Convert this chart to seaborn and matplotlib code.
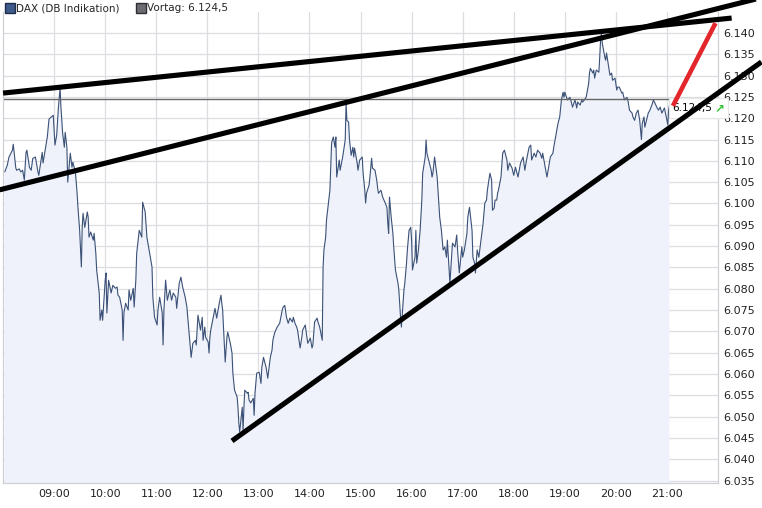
import pandas as pd
import matplotlib
matplotlib.use('Agg')
import matplotlib.pyplot as plt
import matplotlib.dates as mdates
from matplotlib.lines import Line2D
from matplotlib.offsetbox import TextArea, HPacker, AnnotationBbox
import seaborn as sns

# minutes after 08:00 and DAX level
minutes = [2, 5, 7, 11, 12, 13, 15, 16, 19, 21, 23, 25, 27, 28, 31, 33, 35, 38, 39, 41,
           42, 45, 46, 47, 49, 52, 54, 58, 59, 61, 63, 65, 67, 68, 70, 72, 73, 75, 76, 79,
           81, 82, 85, 87, 88, 90, 92, 93, 94, 96, 99, 100, 101, 103, 106, 107, 109, 110, 113, 114,
           116, 117, 120, 121, 122, 124, 127, 129, 132, 134, 135, 137, 140, 141, 142, 144, 147, 148, 150, 153,
           154, 156, 157, 160, 163, 164, 167, 169, 171, 175, 176, 178, 181, 182, 184, 187, 188, 189, 191, 193,
           195, 196, 198, 200, 203, 204, 207, 209, 211, 214, 216, 217, 220, 221, 223, 226, 227, 229, 230, 232,
           234, 235, 237, 238, 241, 242, 243, 244, 247, 249, 251, 254, 256, 257, 258, 259, 261, 263, 264, 267,
           269, 270, 272, 275, 276, 277, 278, 281, 282, 283, 284, 287, 288, 289, 291, 294, 295, 296, 298, 301,
           303, 304, 306, 309, 311, 314, 316, 317, 319, 322, 325, 328, 329, 331, 333, 335, 337, 340, 341, 343,
           345, 346, 349, 351, 352, 355, 357, 358, 361, 363, 364, 366, 369, 370, 372, 375, 376, 377, 379, 380,
           383, 384, 386, 388, 390, 391, 392, 395, 396, 399, 402, 403, 404, 406, 407, 409, 411, 412, 413, 416,
           417, 419, 422, 423, 425, 426, 427, 430, 431, 433, 434, 437, 439, 440, 441, 444, 446, 449, 451, 452,
           453, 454, 456, 458, 459, 461, 464, 465, 467, 468, 470, 471, 472, 474, 475, 477, 479, 480, 481, 484,
           485, 486, 488, 490, 492, 493, 496, 497, 498, 500, 503, 504, 505, 507, 510, 511, 513, 515, 517, 519,
           521, 522, 525, 527, 528, 531, 533, 534, 536, 539, 540, 542, 545, 546, 548, 551, 552, 554, 555, 557,
           559, 562, 564, 566, 568, 569, 572, 574, 575, 577, 578, 580, 581, 582, 585, 587, 589, 592, 593, 595,
           598, 600, 602, 605, 608, 611, 613, 615, 618, 620, 621, 624, 626, 628, 631, 633, 634, 636, 639, 641,
           643, 646, 647, 650, 652, 654, 656, 658, 659, 660, 662, 663, 666, 668, 669, 672, 674, 675, 678, 680,
           681, 683, 685, 686, 688, 689, 690, 693, 694, 695, 697, 700, 701, 702, 703, 704, 707, 708, 709, 712,
           713, 715, 716, 719, 721, 722, 724, 727, 728, 730, 733, 734, 736, 739, 740, 742, 744, 746, 748, 750,
           751, 753, 754, 756, 758, 760, 763, 764, 766, 768, 770, 772, 774, 777, 780, 781, 782, 783]
dax = [6107.4, 6109.0, 6110.9, 6112.5, 6113.9, 6112.0, 6108.3, 6107.8, 6108.1, 6107.4,
       6107.8, 6105.5, 6112.0, 6112.5, 6108.5, 6107.8, 6110.6, 6110.9, 6109.7, 6107.4,
       6106.6, 6110.6, 6112.0, 6109.5, 6112.0, 6115.6, 6119.8, 6120.5, 6120.7, 6113.7,
       6116.0, 6122.4, 6127.1, 6122.6, 6116.5, 6113.2, 6116.7, 6113.2, 6105.0, 6111.8,
       6108.5, 6109.7, 6107.4, 6102.4, 6099.1, 6093.7, 6085.1, 6094.4, 6097.7, 6094.4,
       6098.0, 6096.8, 6092.1, 6093.3, 6091.4, 6093.0, 6088.3, 6084.4, 6079.0, 6072.6,
       6075.0, 6072.6, 6082.0, 6083.7, 6074.3, 6082.0, 6079.0, 6080.8, 6080.1, 6080.4,
       6078.5, 6078.0, 6075.0, 6067.9, 6074.3, 6076.6, 6075.0, 6079.7, 6077.3, 6080.1,
       6075.7, 6082.0, 6088.3, 6093.7, 6092.1, 6100.3, 6098.0, 6092.1, 6089.8, 6085.1,
       6078.0, 6073.3, 6071.5, 6075.0, 6078.0, 6074.3, 6066.8, 6075.0, 6082.0, 6077.3,
       6079.0, 6079.7, 6077.3, 6079.0, 6078.0, 6075.4, 6081.3, 6082.7, 6080.4, 6078.0,
       6075.7, 6073.3, 6066.3, 6063.9, 6067.2, 6067.9, 6066.8, 6073.8, 6072.6, 6070.3,
       6073.3, 6067.9, 6071.0, 6068.6, 6067.5, 6064.9, 6068.6, 6070.3, 6073.3, 6075.4,
       6073.1, 6076.6, 6078.5, 6076.6, 6075.0, 6071.0, 6062.8, 6068.6, 6069.8, 6067.2,
       6064.9, 6060.2, 6056.2, 6054.6, 6052.2, 6048.5, 6046.4, 6052.2, 6046.8, 6052.2,
       6056.2, 6055.5, 6055.7, 6053.9, 6053.2, 6054.3, 6050.3, 6055.5, 6060.2, 6060.4,
       6057.8, 6061.6, 6063.9, 6061.6, 6059.0, 6063.9, 6065.6, 6067.9, 6069.6, 6071.0,
       6071.9, 6075.0, 6075.7, 6076.1, 6073.3, 6071.9, 6073.1, 6072.2, 6073.3, 6071.9,
       6071.0, 6070.3, 6066.1, 6068.6, 6070.3, 6071.5, 6068.6, 6067.2, 6068.4, 6066.1,
       6066.8, 6072.2, 6073.1, 6072.2, 6071.0, 6067.9, 6085.1, 6089.1, 6092.1, 6096.1,
       6101.5, 6103.1, 6114.2, 6115.6, 6113.2, 6115.6, 6106.2, 6110.2, 6107.8, 6110.9,
       6114.9, 6123.5, 6119.5, 6119.1, 6114.9, 6111.3, 6113.2, 6110.9, 6113.0, 6109.5,
       6107.8, 6110.2, 6110.9, 6107.1, 6103.1, 6100.1, 6102.4, 6104.3, 6106.2, 6110.6,
       6108.3, 6107.8, 6105.5, 6103.8, 6102.4, 6103.1, 6101.5, 6100.1, 6099.1, 6095.4,
       6093.0, 6101.5, 6096.8, 6093.0, 6089.8, 6084.4, 6081.3, 6079.7, 6073.3, 6071.0,
       6076.6, 6079.7, 6081.3, 6086.0, 6089.1, 6093.7, 6094.4, 6091.4, 6084.4, 6087.4,
       6093.7, 6086.0, 6089.1, 6093.7, 6100.8, 6107.1, 6110.9, 6114.9, 6111.8, 6110.2,
       6107.8, 6106.2, 6107.1, 6110.9, 6106.2, 6103.1, 6096.8, 6093.7, 6089.1, 6089.8,
       6087.4, 6091.4, 6081.3, 6087.4, 6090.7, 6089.8, 6092.6, 6089.1, 6083.7, 6089.8,
       6087.4, 6089.1, 6093.0, 6096.8, 6099.1, 6093.7, 6087.4, 6086.0, 6083.7, 6089.1,
       6087.4, 6092.1, 6095.4, 6100.1, 6100.8, 6103.1, 6107.1, 6105.5, 6098.4, 6098.9,
       6100.8, 6100.8, 6102.4, 6103.1, 6106.2, 6111.8, 6112.5, 6110.2, 6107.8, 6109.5,
       6108.3, 6106.6, 6108.5, 6106.2, 6109.5, 6110.9, 6107.8, 6110.2, 6113.2, 6113.7,
       6110.2, 6111.8, 6110.9, 6112.5, 6111.8, 6110.6, 6111.8, 6109.5, 6106.2, 6108.5,
       6110.9, 6111.8, 6113.2, 6116.5, 6118.8, 6120.3, 6124.3, 6126.1, 6124.9, 6126.1,
       6124.9, 6124.3, 6124.9, 6123.5, 6122.6, 6124.3, 6122.4, 6123.8, 6123.1, 6124.3,
       6123.8, 6124.3, 6124.9, 6125.9, 6128.2, 6130.6, 6131.7, 6130.6, 6131.3, 6129.4,
       6131.3, 6130.8, 6134.3, 6138.3, 6140.0, 6137.6, 6134.3, 6133.6, 6135.3, 6131.3,
       6130.1, 6130.6, 6128.9, 6129.4, 6126.6, 6127.3, 6127.3, 6125.9, 6126.1, 6124.3,
       6124.9, 6124.3, 6121.9, 6121.2, 6120.3, 6119.5, 6121.2, 6121.9, 6119.5, 6115.0,
       6118.8, 6120.3, 6117.9, 6119.5, 6121.2, 6121.9, 6123.5, 6124.3, 6123.5, 6122.6,
       6121.9, 6122.6, 6121.2, 6122.4, 6119.5, 6118.4, 6121.9, 6123.1]
vortag = 6124.5
hours = list(range(9, 22))
levels = list(range(6035, 6141, 5))

# hand drawn lines: (minutes after 08:00, level) at both ends
resist_top = [(0, 6125.9), (856, 6143.5)]
resist_mid = [(-4, 6103.2), (889, 6148.2)]
support = [(269, 6044.3), (891, 6133.2)]
target = [(787, 6122.9), (837, 6142.3)]

day = pd.Timestamp('2010-06-01 08:00')
def at(m):
    return day + pd.Timedelta(minutes=m)

df = pd.DataFrame({'time': [at(m) for m in minutes], 'dax': dax})

sns.set_style('white')
plt.rcParams['font.family'] = ['DejaVu Sans']
fig = plt.figure(figsize=(7.62, 5.08), dpi=100)
ax = fig.add_axes([0.004, 0.049, 0.9383, 0.9272])

ax.fill_between(df['time'], 6000, df['dax'], color='#eff2fa', lw=0, zorder=1)
sns.lineplot(data=df, x='time', y='dax', ax=ax, color='#3b5177', lw=0.8, zorder=2)
ax.axhline(vortag, color='#666666', lw=1, zorder=2)

for line, col, lw in [(resist_top, 'black', 3.7), (resist_mid, 'black', 3.7),
                      (support, 'black', 3.7), (target, '#e3262b', 3.3)]:
    ax.plot([at(p[0]) for p in line], [p[1] for p in line], color=col, lw=lw,
            solid_capstyle='butt', clip_on=False, zorder=5)

# last price label with green arrow
label = HPacker(children=[TextArea('6.124,5', textprops=dict(fontsize=7.5, color='black')),
                          TextArea('\u2197', textprops=dict(fontsize=8.5, color='#2fbf2f',
                                                            fontweight='bold'))],
                pad=0, sep=2, align='center')
ab = AnnotationBbox(label, (at(786), 6122.3), box_alignment=(0, 0.5), frameon=True,
                    pad=0.25, annotation_clip=False, zorder=3,
                    bboxprops=dict(boxstyle='square,pad=0.25', fc='white', ec='#e6e6e6', lw=0.8))
ax.add_artist(ab)

ax.set_xlim(at(0), at(840))
ax.set_ylim(6034.4, 6144.9)
ax.set_xticks([at((h - 8) * 60) for h in hours])
ax.xaxis.set_major_formatter(mdates.DateFormatter('%H:%M'))
ax.set_yticks(levels)
ax.set_yticklabels([f'{v / 1000:.3f}' for v in levels])
ax.yaxis.tick_right()
ax.tick_params(axis='both', labelsize=8, length=0, colors='#222222', pad=4)
ax.grid(True, color='#dcdde3', lw=0.9)
ax.set_axisbelow(True)
ax.set_xlabel('')
ax.set_ylabel('')
for s in ['left', 'bottom', 'right']:
    ax.spines[s].set_color('#cfd0d6')
    ax.spines[s].set_linewidth(0.9)
ax.spines['top'].set_visible(False)

handles = [Line2D([], [], marker='s', ls='', markersize=6.5, markerfacecolor='#3d5a8a',
                  markeredgecolor='#1e2e4a'),
           Line2D([], [], marker='s', ls='', markersize=6.5, markerfacecolor='#6b6b72',
                  markeredgecolor='#2e2e33')]
fig.legend(handles, ['DAX (DB Indikation)', 'Vortag: 6.124,5'], loc='upper left',
           bbox_to_anchor=(-0.006, 1.012), ncol=2, frameon=False, fontsize=7.5,
           handletextpad=0.05, columnspacing=1.6, handlelength=1.0)

fig.savefig('out.png', dpi=100)
